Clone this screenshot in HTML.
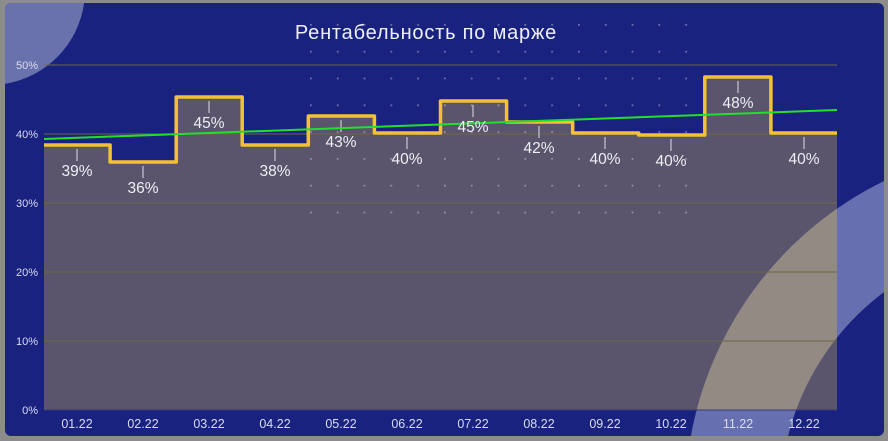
<!DOCTYPE html>
<html><head><meta charset="utf-8"><style>
html,body{margin:0;padding:0;background:#8a8a8a;width:888px;height:441px;overflow:hidden;}
svg{display:block;font-family:"Liberation Sans","DejaVu Sans",sans-serif;}
</style></head><body>
<svg width="888" height="441" viewBox="0 0 888 441" xmlns="http://www.w3.org/2000/svg">
<defs>
<clipPath id="panel"><rect x="5" y="3" width="879" height="433" rx="6"/></clipPath>
<clipPath id="plot"><path d="M44,410 V145 H110.1 V162 H176.2 V97 H242.2 V145 H308.3 V116 H374.4 V133 H440.5 V101 H506.6 V122 H572.7 V133 H638.7 V135 H704.8 V77 H770.9 V133 H837 V410 Z"/></clipPath>
<pattern id="dots" x="310" y="24" width="26.8" height="26.8" patternUnits="userSpaceOnUse"><circle cx="0.8" cy="0.8" r="1.1" fill="#ffffff" fill-opacity="0.35"/></pattern>
</defs>
<rect width="888" height="441" fill="#8c8c8c"/>
<g clip-path="url(#panel)">
<rect x="5" y="3" width="879" height="433" fill="#19237f"/>
<path d="M5,3 H84.1 A95,95 0 0 1 5,83.8 Z" fill="#6a72ad"/>
<path d="M44,410 V145 H110.1 V162 H176.2 V97 H242.2 V145 H308.3 V116 H374.4 V133 H440.5 V101 H506.6 V122 H572.7 V133 H638.7 V135 H704.8 V77 H770.9 V133 H837 V410 Z" fill="#5a546c"/>
<path d="M690,441 A355,355 0 0 1 884,181 L884,292 A260,260 0 0 0 786.8,441 Z" fill="#6670b0"/>
<g clip-path="url(#plot)"><path d="M690,441 A355,355 0 0 1 884,181 L884,292 A260,260 0 0 0 786.8,441 Z" fill="#938a84"/></g>
<g stroke="#6e6648" stroke-width="1">
<line x1="44" y1="65" x2="837" y2="65"/><line x1="44" y1="134" x2="837" y2="134"/>
<line x1="44" y1="203" x2="837" y2="203"/><line x1="44" y1="272" x2="837" y2="272"/>
<line x1="44" y1="341" x2="837" y2="341"/><line x1="44" y1="410" x2="837" y2="410" stroke="#3a3a70"/>
</g>
<rect x="305" y="18" width="392" height="204" fill="url(#dots)"/>
<g fill="#d8dbf0" font-size="11" text-anchor="end">
<text x="38" y="69">50%</text><text x="38" y="138">40%</text><text x="38" y="207">30%</text>
<text x="38" y="276">20%</text><text x="38" y="345">10%</text><text x="38" y="414">0%</text>
</g>
<text x="426" y="39" fill="#eef0ff" font-size="20" letter-spacing="0.8" text-anchor="middle">Рентабельность по марже</text>
<g stroke="#c8c8d0" stroke-width="1.2">
<line x1="77" y1="149" x2="77" y2="161"/><line x1="143" y1="166" x2="143" y2="178"/>
<line x1="209" y1="101" x2="209" y2="113"/><line x1="275" y1="149" x2="275" y2="161"/>
<line x1="341" y1="120" x2="341" y2="132"/><line x1="407" y1="137" x2="407" y2="149"/>
<line x1="473" y1="105" x2="473" y2="117"/><line x1="539" y1="126" x2="539" y2="138"/>
<line x1="605" y1="137" x2="605" y2="149"/><line x1="671" y1="139" x2="671" y2="151"/>
<line x1="738" y1="81" x2="738" y2="93"/><line x1="804" y1="137" x2="804" y2="149"/>
</g>
<path d="M44,145 H110.1 V162 H176.2 V97 H242.2 V145 H308.3 V116 H374.4 V133 H440.5 V101 H506.6 V122 H572.7 V133 H638.7 V135 H704.8 V77 H770.9 V133 H837" fill="none" stroke="#f2c230" stroke-width="3.5" stroke-linejoin="round"/>
<line x1="44" y1="139" x2="837" y2="110" stroke="#22e02a" stroke-width="2"/>
<g fill="#eeeef4" font-size="15.5" text-anchor="middle">
<text x="77" y="176">39%</text><text x="143" y="193">36%</text><text x="209" y="128">45%</text>
<text x="275" y="176">38%</text><text x="341" y="147">43%</text><text x="407" y="164">40%</text>
<text x="473" y="132">45%</text><text x="539" y="153">42%</text><text x="605" y="164">40%</text>
<text x="671" y="166">40%</text><text x="738" y="108">48%</text><text x="804" y="164">40%</text>
</g>
<g fill="#d8dbf0" font-size="12.5" text-anchor="middle">
<text x="77" y="428">01.22</text><text x="143" y="428">02.22</text><text x="209" y="428">03.22</text>
<text x="275" y="428">04.22</text><text x="341" y="428">05.22</text><text x="407" y="428">06.22</text>
<text x="473" y="428">07.22</text><text x="539" y="428">08.22</text><text x="605" y="428">09.22</text>
<text x="671" y="428">10.22</text><text x="738" y="428">11.22</text><text x="804" y="428">12.22</text>
</g>
</g>
</svg>
</body></html>
